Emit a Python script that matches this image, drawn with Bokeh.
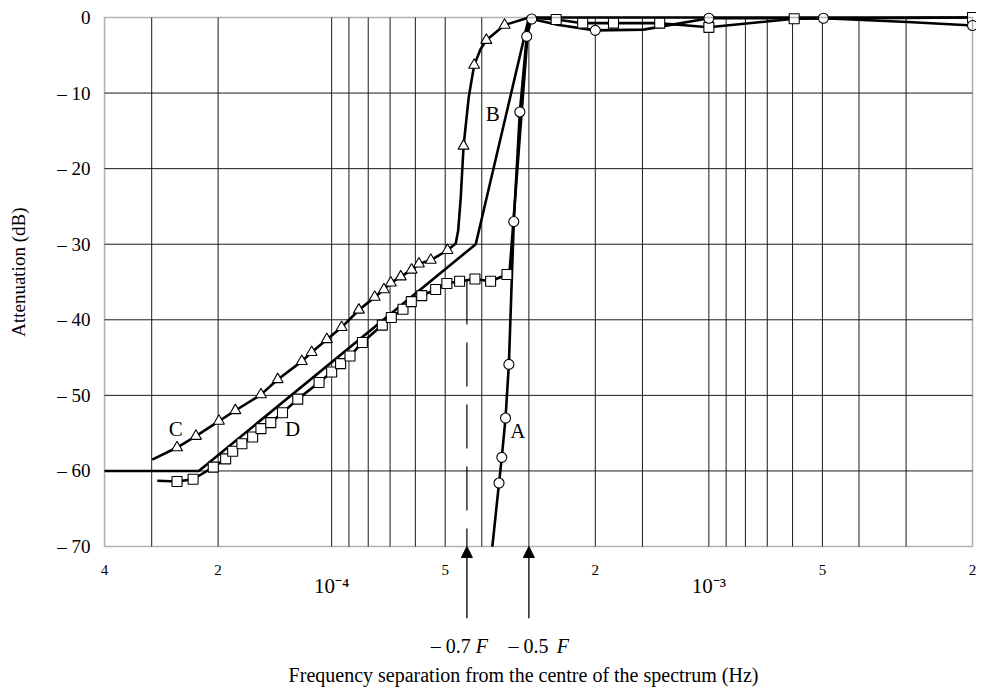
import math
from bokeh.plotting import figure
from bokeh.models import Range1d, FixedTicker, Label, Arrow, NormalHead, BoxAnnotation, LogAxis
from bokeh.embed import file_html
from bokeh.resources import INLINE

# ---------------- data (x: frequency separation, reversed log axis; y: attenuation dB)
# Curve A (circles)
a_line_x = [3.75e-5, 3.60e-5, 3.54e-5, 3.46e-5, 3.39e-5, 3.29e-5, 3.17e-5, 3.04e-5, 2.95e-5,
            2.5e-5, 2.0e-5, 1.49e-5, 1.0e-5, 4.97e-6, 2.97e-6, 2.0e-6]
a_line_y = [-70, -61.6, -58.2, -53.0, -45.9, -27.0, -12.5, -2.5, -0.2,
            -1.0, -1.7, -1.6, -0.1, -0.1, -0.6, -1.06]
a_mark_x = [3.60e-5, 3.54e-5, 3.46e-5, 3.39e-5, 3.29e-5, 3.17e-5, 3.04e-5, 2.95e-5, 2.0e-5,
            1.0e-5, 4.97e-6, 2.0e-6]
a_mark_y = [-61.6, -58.2, -53.0, -45.9, -27.0, -12.5, -2.5, -0.2, -1.7,
            -0.1, -0.1, -1.06]

# Curve B (plain line)
b_x = [4.0e-4, 2.25e-4, 4.15e-5, 3.0e-5, 2.0e-6]
b_y = [-60, -60, -30, 0, 0]

# Curve C (triangles)
c_line_x = [2.99e-4, 2.57e-4, 2.29e-4, 1.99e-4, 1.80e-4, 1.54e-4, 1.39e-4, 1.20e-4, 1.13e-4,
            1.03e-4, 9.41e-5, 8.47e-5, 7.69e-5, 7.27e-5, 6.97e-5, 6.56e-5, 6.14e-5, 5.87e-5,
            5.46e-5, 4.93e-5, 4.69e-5, 4.62e-5, 4.55e-5, 4.47e-5, 4.33e-5, 4.19e-5, 4.03e-5,
            3.89e-5, 3.48e-5, 3.0e-5]
c_line_y = [-58.5, -56.9, -55.4, -53.4, -52.0, -49.9, -47.9, -45.5, -44.3,
            -42.6, -41.0, -38.7, -37.0, -36.0, -35.1, -34.3, -33.4, -32.6,
            -32.1, -30.8, -29.9, -28.2, -24.0, -17.0, -10.5, -6.3, -4.2,
            -3.0, -1.0, 0]
c_mark_x = [2.57e-4, 2.29e-4, 1.99e-4, 1.80e-4, 1.54e-4, 1.39e-4, 1.20e-4, 1.13e-4, 1.03e-4,
            9.41e-5, 8.47e-5, 7.69e-5, 7.27e-5, 6.97e-5, 6.56e-5, 6.14e-5, 5.87e-5, 5.46e-5,
            4.93e-5, 4.47e-5, 4.19e-5, 3.89e-5, 3.48e-5]
c_mark_y = [-56.9, -55.4, -53.4, -52.0, -49.9, -47.9, -45.5, -44.3, -42.6,
            -41.0, -38.7, -37.0, -36.0, -35.1, -34.3, -33.4, -32.6, -32.1,
            -30.8, -17.0, -6.3, -3.0, -1.0]

# Curve D (squares)
d_line_x = [2.90e-4, 2.57e-4, 2.33e-4, 2.06e-4, 1.91e-4, 1.83e-4, 1.73e-4, 1.62e-4, 1.54e-4,
            1.45e-4, 1.35e-4, 1.23e-4, 1.08e-4, 1.0e-4, 9.47e-5, 8.94e-5, 8.29e-5, 7.34e-5,
            6.95e-5, 6.47e-5, 6.15e-5, 5.77e-5, 5.30e-5, 4.95e-5, 4.58e-5, 4.17e-5, 3.79e-5,
            3.43e-5, 3.38e-5, 3.0e-5, 2.54e-5, 2.16e-5, 1.79e-5, 1.35e-5, 1.0e-5, 5.94e-6, 2.0e-6]
d_line_y = [-61.3, -61.4, -61.1, -59.5, -58.4, -57.4, -56.4, -55.5, -54.4,
            -53.6, -52.3, -50.5, -48.3, -46.9, -45.8, -44.8, -43.0, -40.7,
            -39.7, -38.6, -37.6, -36.8, -36.0, -35.2, -34.9, -34.6, -34.9,
            -34.0, -34.0, 0, -0.26, -0.75, -0.75, -0.75, -1.3, -0.17, 0]
d_mark_x = [2.57e-4, 2.33e-4, 2.06e-4, 1.91e-4, 1.83e-4, 1.73e-4, 1.62e-4, 1.54e-4,
            1.45e-4, 1.35e-4, 1.23e-4, 1.08e-4, 1.0e-4, 9.47e-5, 8.94e-5, 8.29e-5, 7.34e-5,
            6.95e-5, 6.47e-5, 6.15e-5, 5.77e-5, 5.30e-5, 4.95e-5, 4.58e-5, 4.17e-5, 3.79e-5,
            3.43e-5, 2.54e-5, 2.16e-5, 1.79e-5, 1.35e-5, 1.0e-5, 5.94e-6, 2.0e-6]
d_mark_y = [-61.4, -61.1, -59.5, -58.4, -57.4, -56.4, -55.5, -54.4,
            -53.6, -52.3, -50.5, -48.3, -46.9, -45.8, -44.8, -43.0, -40.7,
            -39.7, -38.6, -37.6, -36.8, -36.0, -35.2, -34.9, -34.6, -34.9,
            -34.0, -0.26, -0.75, -0.75, -0.75, -1.3, -0.17, 0]

# Axis ticks / grid
y_ticks = [0, -10, -20, -30, -40, -50, -60, -70]
y_labels = ["0", "– 10", "– 20", "– 30", "– 40", "– 50", "– 60", "– 70"]
x_label_ticks = [4e-4, 2e-4, 5e-5, 2e-5, 5e-6, 2e-6]
x_label_text = ["4", "2", "5", "2", "5", "2"]
x_decade_ticks = [1e-4, 1e-5]
x_decade_text = ["10⁻⁴", "10⁻³"]
x_grid = [3e-4, 2e-4, 1e-4, 9e-5, 8e-5, 7e-5, 6e-5, 5e-5, 4e-5, 3e-5, 2e-5, 1.5e-5,
          1e-5, 9e-6, 8e-6, 7e-6, 6e-6, 5e-6, 4e-6, 3e-6]
y_grid = [-60, -50, -40, -30, -20, -10]

# band-edge markers (-0.7 F and -0.5 F)
edge_x = [4.38e-5, 3.0e-5]
edge_text = ["– 0.7", "– 0.5"]
dash_y = [-34.8, -70.0]

FONT = "Liberation Serif"
X0, X1 = 4e-4, 2e-6          # plotting area, left / right
Y_BOTTOM, Y_TOP = -70, 0     # plotting area, bottom / top

# the frame covers the whole canvas so that the texts and arrows below the axis can be drawn
p = figure(width=976, height=689, x_axis_type="log",
           x_range=Range1d(7.55e-4, 1.952e-6), y_range=Range1d(-88.92, 2.25),
           output_backend="svg", toolbar_location=None,
           min_border_left=0, min_border_right=0, min_border_top=0, min_border_bottom=0)
p.outline_line_color = None
p.background_fill_color = "white"
p.border_fill_color = "white"
p.xgrid.visible = False
p.ygrid.visible = False

# grid lines restricted to the plotting box
GRID = "#1a1a1a"
p.segment(x0=x_grid, y0=[Y_BOTTOM] * len(x_grid), x1=x_grid, y1=[Y_TOP] * len(x_grid),
          line_color=GRID, line_width=1)
p.segment(x0=[X0] * len(y_grid), y0=y_grid, x1=[X1] * len(y_grid), y1=y_grid,
          line_color=GRID, line_width=1)

xa = p.xaxis[0]
xa.fixed_location = Y_BOTTOM
xa.ticker = FixedTicker(ticks=x_label_ticks)
xa.major_label_overrides = {t: s for t, s in zip(x_label_ticks, x_label_text)}
xa2 = LogAxis(fixed_location=Y_BOTTOM, ticker=FixedTicker(ticks=x_decade_ticks),
              major_label_overrides={t: s for t, s in zip(x_decade_ticks, x_decade_text)})
p.add_layout(xa2, "below")
ya = p.yaxis[0]
ya.fixed_location = X0
ya.ticker = FixedTicker(ticks=y_ticks)
ya.major_label_overrides = {t: s for t, s in zip(y_ticks, y_labels)}
for ax in (xa, xa2, ya):
    ax.axis_line_color = None
    ax.major_tick_in = 0
    ax.major_tick_out = 0
    ax.minor_tick_in = 0
    ax.minor_tick_out = 0
    ax.major_label_text_font = FONT
    ax.major_label_text_color = "black"
xa.major_label_text_font_size = "15px"
xa.major_label_standoff = 18
xa2.major_label_text_font_size = "21px"
xa2.major_label_standoff = 27
ya.major_label_text_font_size = "19px"
ya.major_label_standoff = 14

LW = 2.6
p.line(b_x, b_y, line_width=LW, color="black")
p.line(c_line_x, c_line_y, line_width=LW, color="black")
p.line(d_line_x, d_line_y, line_width=LW, color="black")
p.line(a_line_x, a_line_y, line_width=LW, color="black")
p.line([edge_x[0], edge_x[0]], dash_y, line_width=1.2, color="black", line_dash="44 18")

p.scatter(c_mark_x, c_mark_y, marker="triangle", size=11, fill_color="white", line_color="black", line_width=1.1)
p.scatter(d_mark_x, d_mark_y, marker="square", size=10, fill_color="white", line_color="black", line_width=1.1)
p.scatter(a_mark_x, a_mark_y, marker="circle", size=10, fill_color="white", line_color="black", line_width=1.1)

# border of the plotting area
p.add_layout(BoxAnnotation(left=X0, right=X1, top=Y_TOP, bottom=Y_BOTTOM, fill_alpha=0,
                           fill_color=None, line_color="black", line_width=1.6, level="overlay"))

def lab(x, y, text, size="21px", align="center", style="normal", base="middle", angle=0.0):
    p.add_layout(Label(x=x, y=y, text=text, text_font=FONT, text_font_size=size,
                       text_align=align, text_baseline=base, text_font_style=style,
                       text_color="black", angle=angle))

lab(3.21e-5, -54.7, "A")
lab(3.74e-5, -12.8, "B")
lab(2.59e-4, -54.4, "C")
lab(1.27e-4, -54.4, "D")

# arrows and F labels below the axis
for ex in edge_x:
    p.add_layout(Arrow(end=NormalHead(size=11, fill_color="black", line_color="black"),
                       x_start=ex, y_start=-79.5, x_end=ex, y_end=Y_BOTTOM,
                       line_width=1.3, line_color="black"))
lab(4.28e-5, -83.2, edge_text[0], size="20px", align="right")
lab(4.15e-5, -83.2, "F", size="20px", align="left", style="italic")
lab(2.66e-5, -83.2, edge_text[1], size="20px", align="right")
lab(2.53e-5, -83.2, "F", size="20px", align="left", style="italic")

# axis titles
lab(3.1e-5, -87.0, "Frequency separation from the centre of the spectrum (Hz)", size="20px")
lab(6.76e-4, -33.7, "Attenuation (dB)", size="19px", angle=math.pi / 2)

open("out.html", "w").write(file_html(p, INLINE))
